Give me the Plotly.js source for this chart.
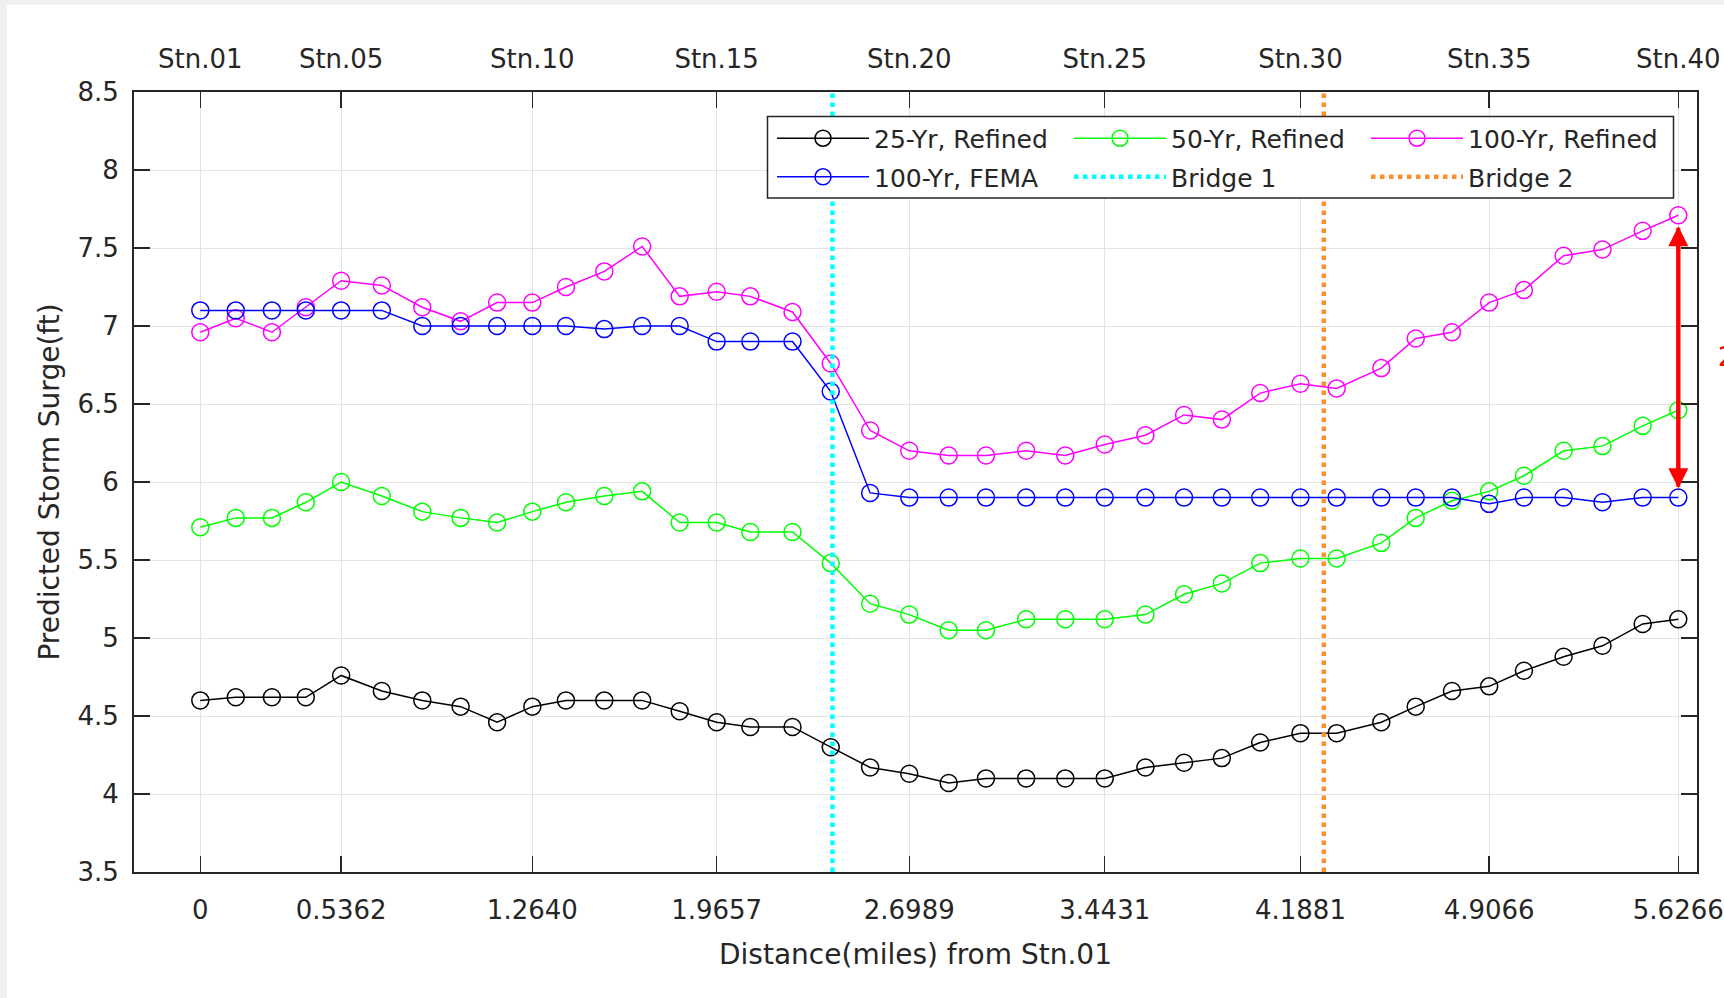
<!DOCTYPE html>
<html>
<head>
<meta charset="utf-8">
<script src="https://cdn.plot.ly/plotly-3.0.1.min.js"></script>
<style>
  html, body { margin: 0; padding: 0; background: #f0f0f0; overflow: hidden; }
  #chart { position: absolute; left: 7px; top: 5px; width: 1717px; height: 993px; background: #ffffff; }
</style>
</head>
<body>
<div id="chart"></div>
<script>
// Station distances (miles from Stn.01), Stn.01 ... Stn.40
const miles = [0, 0.135, 0.2726, 0.4016, 0.5362, 0.691, 0.845, 0.991, 1.130, 1.2640,
  1.392, 1.538, 1.682, 1.825, 1.9657, 2.094, 2.2545, 2.400, 2.550, 2.6989,
  2.849, 2.991, 3.144, 3.293, 3.4431, 3.598, 3.745, 3.889, 4.035, 4.1881,
  4.326, 4.496, 4.627, 4.765, 4.9066, 5.039, 5.190, 5.338, 5.491, 5.6266];

const surge25Refined = [4.60, 4.62, 4.62, 4.62, 4.76, 4.66, 4.60, 4.56, 4.46, 4.56,
  4.60, 4.60, 4.60, 4.53, 4.46, 4.43, 4.43, 4.30, 4.17, 4.13,
  4.07, 4.10, 4.10, 4.10, 4.10, 4.17, 4.20, 4.23, 4.33, 4.39,
  4.39, 4.46, 4.56, 4.66, 4.69, 4.79, 4.88, 4.95, 5.09, 5.12];

const surge50Refined = [5.71, 5.77, 5.77, 5.87, 6.00, 5.91, 5.81, 5.77, 5.74, 5.81,
  5.87, 5.91, 5.94, 5.74, 5.74, 5.68, 5.68, 5.48, 5.22, 5.15,
  5.05, 5.05, 5.12, 5.12, 5.12, 5.15, 5.28, 5.35, 5.48, 5.51,
  5.51, 5.61, 5.77, 5.88, 5.94, 6.04, 6.20, 6.23, 6.36, 6.46];

const surge100Refined = [6.96, 7.05, 6.96, 7.12, 7.29, 7.26, 7.12, 7.03, 7.15, 7.15,
  7.25, 7.35, 7.51, 7.19, 7.22, 7.19, 7.09, 6.76, 6.33, 6.20,
  6.17, 6.17, 6.20, 6.17, 6.24, 6.30, 6.43, 6.40, 6.57, 6.63,
  6.60, 6.73, 6.92, 6.96, 7.15, 7.23, 7.45, 7.49, 7.61, 7.71];

const surge100FEMA = [7.10, 7.10, 7.10, 7.10, 7.10, 7.10, 7.00, 7.00, 7.00, 7.00,
  7.00, 6.98, 7.00, 7.00, 6.90, 6.90, 6.90, 6.58, 5.93, 5.90,
  5.90, 5.90, 5.90, 5.90, 5.90, 5.90, 5.90, 5.90, 5.90, 5.90,
  5.90, 5.90, 5.90, 5.90, 5.86, 5.90, 5.90, 5.87, 5.90, 5.90];

const bridge1Mile = 2.4065;
const bridge2Mile = 4.277;

const bottomTickVals = [0, 0.5362, 1.2640, 1.9657, 2.6989, 3.4431, 4.1881, 4.9066, 5.6266];
const bottomTickText = ['0', '0.5362', '1.2640', '1.9657', '2.6989', '3.4431', '4.1881', '4.9066', '5.6266'];
const topTickText = ['Stn.01', 'Stn.05', 'Stn.10', 'Stn.15', 'Stn.20', 'Stn.25', 'Stn.30', 'Stn.35', 'Stn.40'];

const xRange = [-0.2524, 5.6978];
const yRange = [3.5, 8.5];

// Difference arrow at Stn.40
const arrowMile = 5.6266;
const arrowTop = 7.64;
const arrowBottom = 5.96;
const arrowLabelY = 6.80;

const FONT = 'DejaVu Sans, Arial, sans-serif';
const TXT = '#262626';
const AX = '#262626';

function series(name, y, color, legend, lw) {
  const t = {
    x: miles, y: y, name: name, type: 'scatter', mode: 'lines+markers', legend: legend,
    line: { color: color, width: 1.5 },
    marker: { symbol: 'circle-open', size: 17, color: color, line: { color: color, width: 1.5 } },
    xaxis: 'x', yaxis: 'y'
  };
  if (lw) t.legendwidth = lw;
  return t;
}
function bridge(name, xm, color, legend, lw) {
  const t = {
    x: [xm, xm], y: yRange, name: name, type: 'scatter', mode: 'lines', legend: legend,
    line: { color: color, width: 4.5, dash: 'dot' },
    xaxis: 'x', yaxis: 'y'
  };
  if (lw) t.legendwidth = lw;
  return t;
}

const data = [
  series('25-Yr, Refined', surge25Refined, '#000000', 'legend'),
  series('50-Yr, Refined', surge50Refined, '#00ff00', 'legend'),
  series('100-Yr, Refined', surge100Refined, '#ff00ff', 'legend', 205),
  series('100-Yr, FEMA', surge100FEMA, '#0000ff', 'legend2'),
  bridge('Bridge 1', bridge1Mile, '#00ffff', 'legend2'),
  bridge('Bridge 2', bridge2Mile, '#fc8f2e', 'legend2', 205),
  { x: [bottomTickVals[0]], y: [yRange[0]], xaxis: 'x2', yaxis: 'y', type: 'scatter', mode: 'none',
    showlegend: false, hoverinfo: 'skip' }
];

function legendRow(yCenter) {
  return {
    orientation: 'h', x: 0.4082, y: yCenter, xanchor: 'left', yanchor: 'middle',
    xref: 'paper', yref: 'paper',
    bgcolor: 'rgba(0,0,0,0)', borderwidth: 0,
    font: { family: FONT, size: 25, color: TXT },
    itemwidth: 92, entrywidth: 190, traceorder: 'normal'
  };
}

const layout = {
  width: 1717, height: 993,
  margin: { l: 127, r: 27, t: 87, b: 126 },
  paper_bgcolor: '#ffffff', plot_bgcolor: '#ffffff',
  font: { family: FONT, color: TXT, size: 26 },
  showlegend: true,
  xaxis: {
    range: xRange, tickmode: 'array', tickvals: bottomTickVals, ticktext: bottomTickText,
    ticks: 'inside', ticklen: 16, tickwidth: 1.5, tickcolor: AX,
    showline: true, linecolor: AX, linewidth: 2, mirror: 'ticks',
    showgrid: true, gridcolor: '#e3e3e3', gridwidth: 1, zeroline: false,
    tickfont: { family: FONT, size: 26, color: TXT },
    ticklabelstandoff: 14,
    title: { text: 'Distance(miles) from Stn.01', font: { family: FONT, size: 28, color: TXT }, standoff: 20 }
  },
  xaxis2: {
    overlaying: 'x', side: 'top', matches: 'x', range: xRange,
    tickmode: 'array', tickvals: bottomTickVals, ticktext: topTickText,
    ticks: '', showline: false, showgrid: false, zeroline: false,
    tickfont: { family: FONT, size: 26, color: TXT },
    ticklabelstandoff: 18
  },
  yaxis: {
    range: yRange, dtick: 0.5, tick0: 3.5,
    ticks: 'inside', ticklen: 16, tickwidth: 1.5, tickcolor: AX,
    showline: true, linecolor: AX, linewidth: 2, mirror: 'ticks',
    showgrid: true, gridcolor: '#e3e3e3', gridwidth: 1, zeroline: false,
    tickfont: { family: FONT, size: 26, color: TXT },
    ticklabelstandoff: 8,
    title: { text: 'Predicted Storm Surge(ft)', font: { family: FONT, size: 28, color: TXT }, standoff: 10 }
  },
  legend: legendRow(0.9404),
  legend2: legendRow(0.8910),
  shapes: [
    { type: 'rect', xref: 'paper', yref: 'paper', layer: 'above',
      x0: (767.5 - 134) / 1563, x1: (1673.5 - 134) / 1563,
      y0: (872 - 198) / 780, y1: (872 - 116.5) / 780,
      fillcolor: '#ffffff', line: { color: '#262626', width: 1.5 } }
  ],
  annotations: [
    { x: arrowMile, y: arrowTop, ax: arrowMile, ay: arrowBottom, xref: 'x', yref: 'y', axref: 'x', ayref: 'y',
      showarrow: true, arrowhead: 2, arrowsize: 1, arrowwidth: 4, arrowcolor: '#ff0000', text: '' },
    { x: arrowMile, y: arrowBottom, ax: arrowMile, ay: arrowTop, xref: 'x', yref: 'y', axref: 'x', ayref: 'y',
      showarrow: true, arrowhead: 2, arrowsize: 1, arrowwidth: 4, arrowcolor: '#ff0000', text: '' },
    { x: 1.0124, y: arrowLabelY, xref: 'paper', yref: 'y', xanchor: 'left', yanchor: 'middle',
      showarrow: false, text: '2', font: { family: FONT, size: 26, color: '#ff0000' } }
  ]
};

Plotly.newPlot('chart', data, layout, { displayModeBar: false, staticPlot: true });
</script>
</body>
</html>
